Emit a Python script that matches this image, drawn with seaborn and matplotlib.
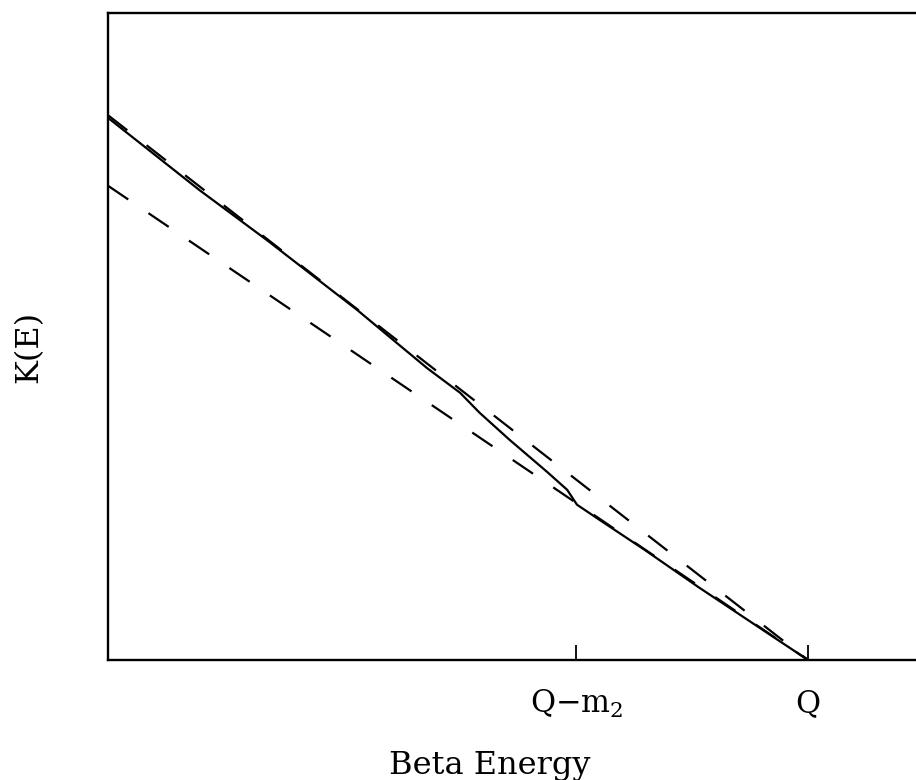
import matplotlib
matplotlib.use("Agg")
import matplotlib.pyplot as plt
import seaborn as sns
import pandas as pd

# --- Data (Q = 1, K(E) in axis units) ---
energy = [0.0, 0.131, 0.227, 0.356, 0.407, 0.456, 0.503, 0.531, 0.574,
          0.627, 0.656, 0.670, 0.703, 0.767, 0.843, 1.0]
kurie = [0.838, 0.726, 0.649, 0.541, 0.495, 0.451, 0.413, 0.382, 0.340,
         0.291, 0.263, 0.240, 0.216, 0.170, 0.113, 0.0]

upper_energy = [0.0, 1.0]
upper_kurie = [0.842, 0.0]
lower_energy = [0.0, 1.0]
lower_kurie = [0.733, 0.0]

tick_pos = [0.669, 1.0]
tick_labels = [r"Q$-$m$_2$", "Q"]

solid = pd.DataFrame({"E": energy, "K": kurie})
upper = pd.DataFrame({"E": upper_energy, "K": upper_kurie})
lower = pd.DataFrame({"E": lower_energy, "K": lower_kurie})

# --- Style ---
sns.set_style("ticks")
plt.rcParams["font.family"] = ["DejaVu Serif"]
plt.rcParams["mathtext.fontset"] = "dejavuserif"
plt.rcParams["text.color"] = "black"
plt.rcParams["axes.labelcolor"] = "black"
plt.rcParams["xtick.color"] = "black"

fig = plt.figure(figsize=(9.16, 7.8), dpi=100)
ax = fig.add_axes([108 / 916, 1 - 660 / 780, 808 / 916, 647 / 780])

sns.lineplot(data=solid, x="E", y="K", ax=ax, color="black", linewidth=1.6)
sns.lineplot(data=upper, x="E", y="K", ax=ax, color="black", linewidth=1.6,
             dashes=False).lines[-1].set_dashes((11, 11))
sns.lineplot(data=lower, x="E", y="K", ax=ax, color="black", linewidth=1.6,
             dashes=False).lines[-1].set_dashes((11, 11))

ax.set_xlim(0, 808 / 700)
ax.set_ylim(0, 1.0)

ax.set_xticks(tick_pos)
ax.set_xticklabels(tick_labels)
ax.set_yticks([])
ax.tick_params(axis="x", direction="in", length=11, width=1.3,
               labelsize=22, pad=20)

for side in ["left", "bottom", "top"]:
    ax.spines[side].set_linewidth(1.7)
    ax.spines[side].set_color("black")
ax.spines["right"].set_visible(False)

ax.set_xlabel("Beta Energy", fontsize=23)
ax.set_ylabel("K(E)", fontsize=23)
ax.xaxis.set_label_coords((490 - 108) / 808, -(750 - 660) / 647)
ax.yaxis.set_label_coords(-(108 - 44) / 808, (660 - 347) / 647)

fig.savefig("out.png", dpi=100)
